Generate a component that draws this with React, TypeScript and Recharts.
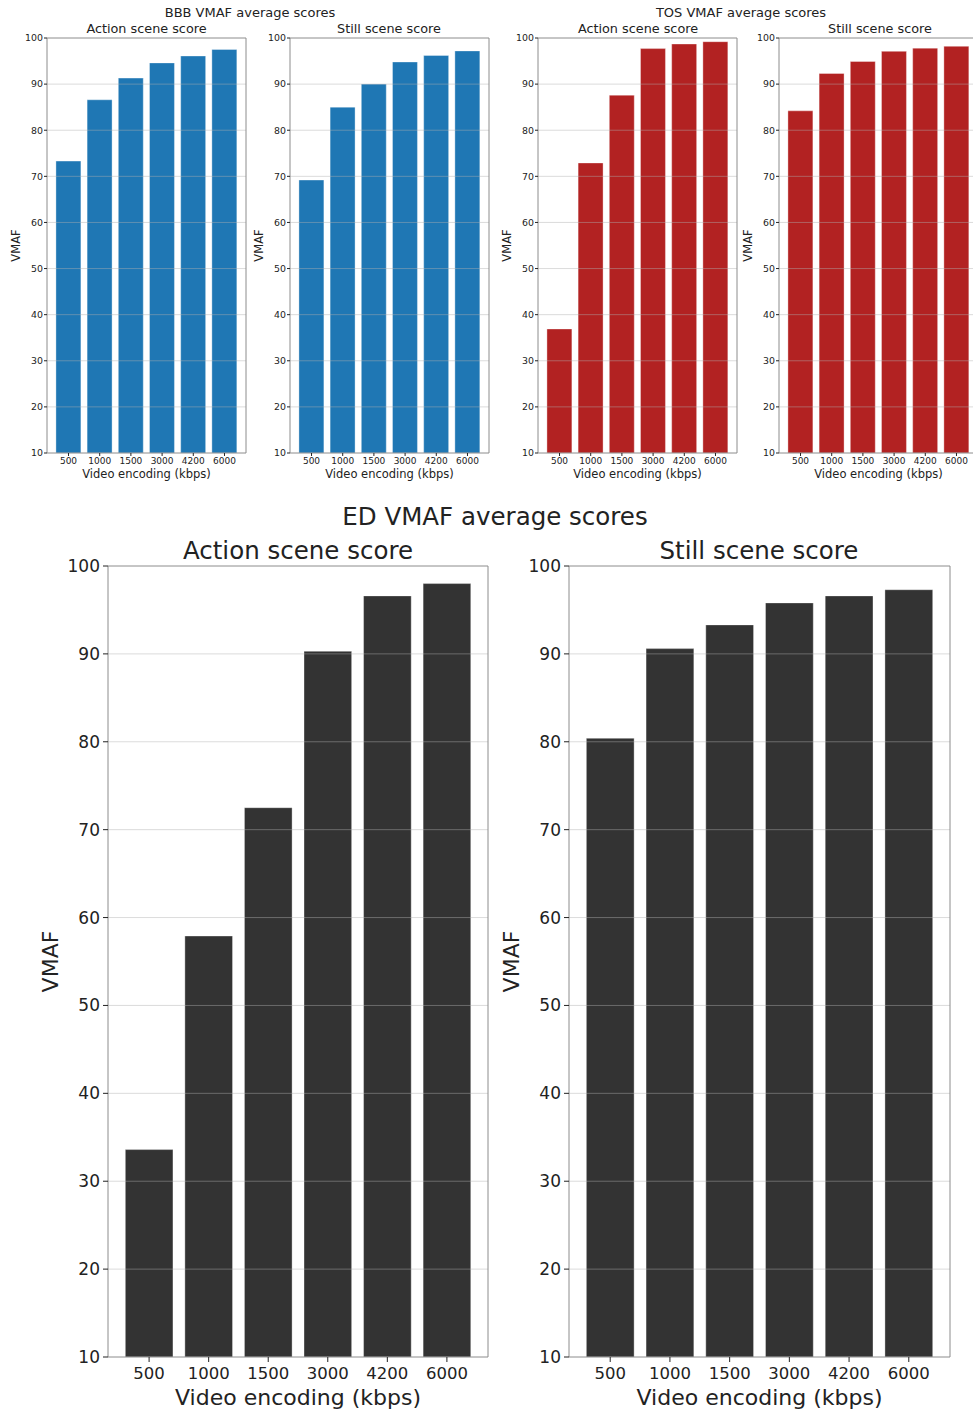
import { BarChart, Bar, XAxis, YAxis, ReferenceLine } from 'recharts';

// bitrate ladder shared by every panel
const KBPS = ['500', '1000', '1500', '3000', '4200', '6000'];
const Y_TICKS = [10, 20, 30, 40, 50, 60, 70, 80, 90, 100];

// average VMAF per encoding, one array per clip / scene type
const BBB_ACTION = [73.3, 86.6, 91.3, 94.6, 96.1, 97.5];
const BBB_STILL = [69.2, 85.0, 90.0, 94.8, 96.2, 97.2];
const TOS_ACTION = [36.9, 72.9, 87.6, 97.7, 98.7, 99.2];
const TOS_STILL = [84.2, 92.3, 94.9, 97.1, 97.8, 98.2];
const ED_ACTION = [33.6, 57.9, 72.5, 90.3, 96.6, 98.0];
const ED_STILL = [80.4, 90.6, 93.3, 95.8, 96.6, 97.3];

const BLUE = '#1f77b4';
const RED = '#b22222';
const DARK = '#333333';
const TEXT = '#222222';
const FRAME = '#8c8c8c';
const GRID = '#b0b0b0';
const FONT = '"DejaVu Sans", sans-serif';

interface PanelStyle {
  plotW: number;
  plotH: number;
  yw: number;
  yTickFont: number;
  xTickFont: number;
  labelFont: number;
  xAxisH: number;
  yTickSize: number;
  yTickMargin: number;
  xTickSize: number;
  xTickMargin: number;
  yLabelGap: number;
}

const SMALL: PanelStyle = {
  plotW: 199,
  plotH: 415,
  yw: 47,
  yTickFont: 9.4,
  xTickFont: 9,
  labelFont: 11.5,
  xAxisH: 25,
  yTickSize: 3,
  yTickMargin: 1,
  xTickSize: 3,
  xTickMargin: 2,
  yLabelGap: 31,
};

const LARGE: PanelStyle = {
  plotW: 381,
  plotH: 791,
  yw: 108,
  yTickFont: 17,
  xTickFont: 16.5,
  labelFont: 22,
  xAxisH: 48,
  yTickSize: 5,
  yTickMargin: 3,
  xTickSize: 5,
  xTickMargin: 5,
  yLabelGap: 58,
};

const MARGIN_TOP = 14;

// top spine + right spine, hung off the y=100 reference line
const frameShape = (plotH: number) => (props: any) => {
  const { x1, y1, x2 } = props;
  return <path d={`M${x1},${y1}L${x2},${y1}L${x2},${y1 + plotH}`} fill="none" stroke={FRAME} strokeWidth={1} />;
};

function Panel({ values, color, left, top, s }: { values: number[]; color: string; left: number; top: number; s: PanelStyle }) {
  const rows = KBPS.map((kbps, i) => ({ kbps, vmaf: values[i] }));
  // matplotlib-like spacing: 0.8 wide bars, 5% x margins
  const unit = s.plotW / 6.38;
  const pad = 0.19 * unit;
  const width = s.yw + s.plotW + 6;
  const height = MARGIN_TOP + s.plotH + s.xAxisH + 4;

  const yLabel = (props: any) => {
    const vb = props.viewBox || { x: 0, y: MARGIN_TOP, height: s.plotH };
    const cx = vb.x + s.yw - s.yLabelGap;
    const cy = vb.y + vb.height / 2;
    return (
      <text x={cx} y={cy} transform={`rotate(-90 ${cx} ${cy})`} textAnchor="middle" dominantBaseline="central" fontSize={s.labelFont} fill={TEXT} fontFamily={FONT}>
        VMAF
      </text>
    );
  };

  return (
    <div style={{ position: 'absolute', left: left - s.yw, top: top - MARGIN_TOP }}>
      <BarChart width={width} height={height} data={rows} margin={{ top: MARGIN_TOP, right: 6, bottom: 4, left: 0 }}>
        <XAxis
          dataKey="kbps"
          interval={0}
          padding={{ left: pad, right: pad }}
          height={s.xAxisH}
          tick={{ fontSize: s.xTickFont, fill: TEXT, fontFamily: FONT }}
          tickSize={s.xTickSize}
          tickMargin={s.xTickMargin}
          tickLine={{ stroke: TEXT }}
          axisLine={{ stroke: FRAME }}
          label={{ value: 'Video encoding (kbps)', position: 'insideBottom', offset: 0, fontSize: s.labelFont, fill: TEXT, fontFamily: FONT }}
        />
        <YAxis
          type="number"
          domain={[10, 100]}
          ticks={Y_TICKS}
          interval={0}
          allowDataOverflow
          width={s.yw}
          tick={{ fontSize: s.yTickFont, fill: TEXT, fontFamily: FONT }}
          tickSize={s.yTickSize}
          tickMargin={s.yTickMargin}
          tickLine={{ stroke: TEXT }}
          axisLine={{ stroke: FRAME }}
          label={yLabel}
        />
        <Bar dataKey="vmaf" fill={color} stroke="#ffffff" strokeOpacity={0.35} strokeWidth={1} barSize={0.8 * unit} isAnimationActive={false} />
        {/* grid sits above the bars */}
        {Y_TICKS.slice(1, -1).map((t) => (
          <ReferenceLine key={t} y={t} stroke={GRID} strokeOpacity={0.45} strokeWidth={1} />
        ))}
        <ReferenceLine y={100} shape={frameShape(s.plotH)} />
      </BarChart>
    </div>
  );
}

function Title({ text, cx, cy, size }: { text: string; cx: number; cy: number; size: number }) {
  return (
    <div
      style={{
        position: 'absolute',
        left: cx - 250,
        width: 500,
        top: cy - size / 2,
        lineHeight: `${size}px`,
        fontSize: size,
        textAlign: 'center',
        color: TEXT,
        fontFamily: FONT,
        whiteSpace: 'nowrap',
      }}
    >
      {text}
    </div>
  );
}

export default function App() {
  return (
    <div style={{ position: 'absolute', left: 0, top: 0, width: 973, height: 1415, overflow: 'hidden', background: '#fff' }}>
      <Panel values={BBB_ACTION} color={BLUE} left={47} top={38} s={SMALL} />
      <Panel values={BBB_STILL} color={BLUE} left={290} top={38} s={SMALL} />
      <Panel values={TOS_ACTION} color={RED} left={538} top={38} s={SMALL} />
      <Panel values={TOS_STILL} color={RED} left={779} top={38} s={SMALL} />
      <Panel values={ED_ACTION} color={DARK} left={108} top={566} s={{ ...LARGE, plotW: 380 }} />
      <Panel values={ED_STILL} color={DARK} left={569} top={566} s={LARGE} />

      <Title text="BBB VMAF average scores" cx={250} cy={12} size={13} />
      <Title text="TOS VMAF average scores" cx={741} cy={12} size={13} />
      <Title text="Action scene score" cx={146.5} cy={29} size={12.8} />
      <Title text="Still scene score" cx={389} cy={29} size={12.8} />
      <Title text="Action scene score" cx={638} cy={29} size={12.8} />
      <Title text="Still scene score" cx={880} cy={29} size={12.8} />
      <Title text="ED VMAF average scores" cx={495} cy={517} size={24.5} />
      <Title text="Action scene score" cx={298} cy={551} size={24.5} />
      <Title text="Still scene score" cx={759} cy={551} size={24.5} />
    </div>
  );
}
